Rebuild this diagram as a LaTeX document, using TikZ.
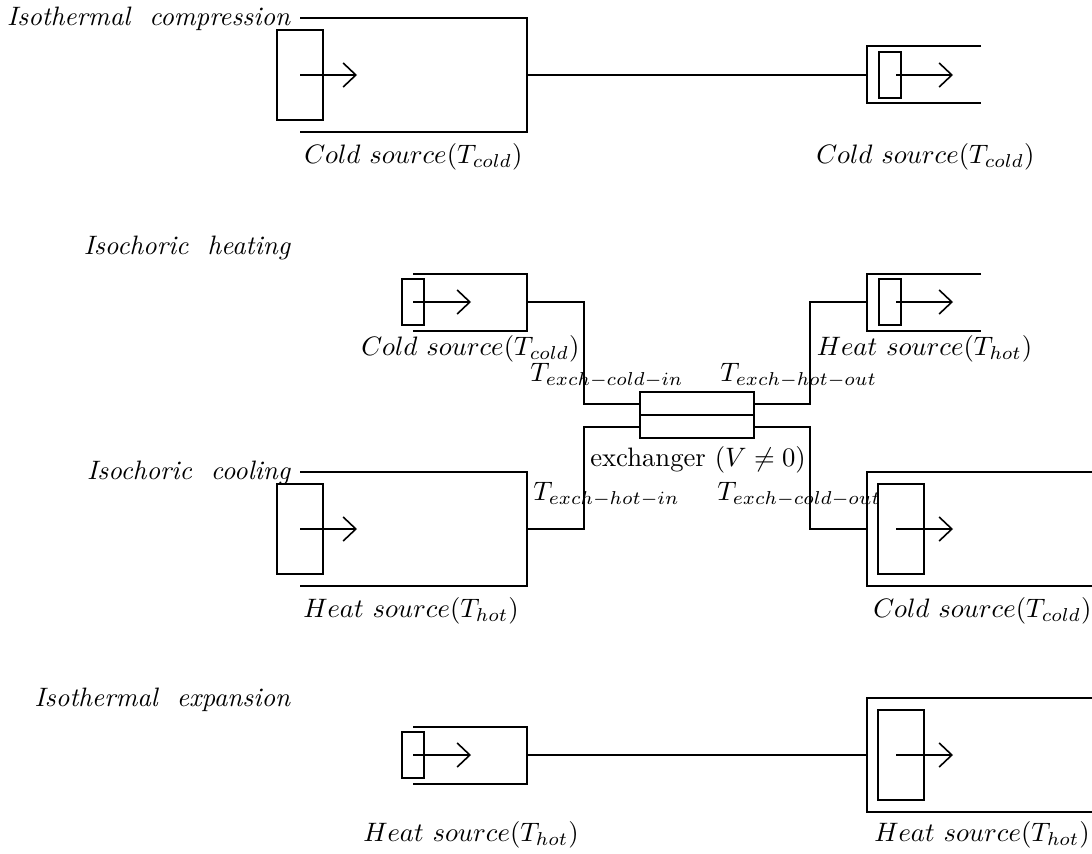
\documentclass[tikz,border=0pt]{standalone}
\usetikzlibrary{arrows.meta}
\newcommand{\bt}[1]{\scalebox{2}{#1}}
\tikzset{
  wall/.style={draw=black,line width=1.5pt},
  piston/.style={wall,inner sep=0pt,outer sep=0pt},
  bigp/.style={piston,minimum width=34.5pt,minimum height=68pt},
  smallp/.style={piston,minimum width=17pt,minimum height=34pt},
  lbl/.style={inner sep=0pt,anchor=base west},
  ttl/.style={inner sep=0pt,anchor=base east},
  rod/.style={wall,-{Straight Barb[length=9.5pt,width=18pt,line width=1.2pt]}},
  xbox/.style={piston,minimum width=85.5pt,minimum height=17pt}
}
\begin{document}
\begin{tikzpicture}[x=0.75pt,y=-0.75pt]
\useasboundingbox (0,0) rectangle (1092,853);
% --- row 1 left
\node[ttl] (t1) at (291,25) {\bt{\textit{Isothermal\ \ compression}}};
\coordinate (a1) at (300,18); \coordinate (a2) at (527,18); \coordinate (a3) at (527,132); \coordinate (a4) at (300,132);
\draw[wall] (a1)--(a2)--(a3)--(a4);
\node[bigp] (p1) at (300,75) {};
\coordinate (r1) at (357,75);
\draw[rod] (p1.center)--(r1);
\node[lbl] (c1) at (304,163) {\bt{$Cold\ source(T_{cold})$}};
% row 1 right
\coordinate (b1) at (981,46); \coordinate (b2) at (867,46); \coordinate (b3) at (867,103); \coordinate (b4) at (981,103);
\draw[wall] (b1)--(b2)--(b3)--(b4);
\node[smallp] (p2) at (890,75) {};
\coordinate (r2a) at (896,75); \coordinate (r2) at (953,75);
\draw[rod] (r2a)--(r2);
\node[lbl] (c2) at (816,163) {\bt{$Cold\ source(T_{cold})$}};
\draw[wall] (a2|-p1)--(b2|-p1);
% --- row 2
\node[ttl] (t2) at (291,254) {\bt{\textit{Isochoric\ \ heating}}};
\coordinate (d1) at (413,274); \coordinate (d2) at (527,274); \coordinate (d3) at (527,331); \coordinate (d4) at (413,331);
\draw[wall] (d1)--(d2)--(d3)--(d4);
\node[smallp] (p3) at (413,302) {};
\coordinate (r3) at (471,302);
\draw[rod] (p3.center)--(r3);
\node[lbl] (c3) at (361,355) {\bt{$Cold\ source(T_{cold})$}};
\coordinate (e1) at (981,274); \coordinate (e2) at (867,274); \coordinate (e3) at (867,331); \coordinate (e4) at (981,331);
\draw[wall] (e1)--(e2)--(e3)--(e4);
\node[smallp] (p4) at (890,302) {};
\coordinate (r4a) at (896,302); \coordinate (r4) at (953,302);
\draw[rod] (r4a)--(r4);
\node[lbl] (c4) at (816.5,355) {\bt{$Heat\ source(T_{hot})$}};
% exchanger
\node[xbox,anchor=south] (x1) at (697,415) {};
\node[xbox,anchor=north] (x2) at (697,415) {};
\coordinate (k1) at (584,302); \coordinate (k2) at (584,404);
\draw[wall] (d2|-p3)--(k1)--(k2)--(k2-|x1.west);
\coordinate (k3) at (810,302); \coordinate (k4) at (810,404);
\draw[wall] (e2|-p4)--(k3)--(k4)--(k4-|x1.east);
\node[lbl] (l1) at (530,381) {\bt{$T_{exch-cold-in}$}};
\node[lbl] (l2) at (720,381) {\bt{$T_{exch-hot-out}$}};
\node[lbl] (xl) at (590,466) {\bt{exchanger $(V\neq 0)$}};
% row 3
\node[ttl] (t3) at (291,479) {\bt{\textit{Isochoric\ \ cooling}}};
\coordinate (f1) at (300,472); \coordinate (f2) at (527,472); \coordinate (f3) at (527,586); \coordinate (f4) at (300,586);
\draw[wall] (f1)--(f2)--(f3)--(f4);
\node[bigp] (p5) at (300,529) {};
\coordinate (r5) at (357,529);
\draw[rod] (p5.center)--(r5);
\node[lbl] (c5) at (303,617) {\bt{$Heat\ source(T_{hot})$}};
\coordinate (g1) at (1092,472); \coordinate (g2) at (867,472); \coordinate (g3) at (867,586); \coordinate (g4) at (1092,586);
\draw[wall] (g1)--(g2)--(g3)--(g4);
\node[bigp] (p6) at (901,529) {};
\coordinate (r6a) at (896,529); \coordinate (r6) at (953,529);
\draw[rod] (r6a)--(r6);
\node[lbl] (c6) at (873,617) {\bt{$Cold\ source(T_{cold})$}};
\coordinate (k5) at (584,529); \coordinate (k6) at (584,427);
\draw[wall] (f2|-p5)--(k5)--(k6)--(k6-|x2.west);
\coordinate (k7) at (810,529); \coordinate (k8) at (810,427);
\draw[wall] (g2|-p6)--(k7)--(k8)--(k8-|x2.east);
\node[lbl] (l3) at (533,500) {\bt{$T_{exch-hot-in}$}};
\node[lbl] (l4) at (717,500) {\bt{$T_{exch-cold-out}$}};
% row 4
\node[ttl] (t4) at (291,706) {\bt{\textit{Isothermal\ \ expansion}}};
\coordinate (h1) at (413,727); \coordinate (h2) at (527,727); \coordinate (h3) at (527,784); \coordinate (h4) at (413,784);
\draw[wall] (h1)--(h2)--(h3)--(h4);
\node[smallp] (p7) at (413,755) {};
\coordinate (r7) at (471,755);
\draw[rod] (p7.center)--(r7);
\node[lbl] (c7) at (363,841) {\bt{$Heat\ source(T_{hot})$}};
\coordinate (m1) at (1092,698); \coordinate (m2) at (867,698); \coordinate (m3) at (867,812); \coordinate (m4) at (1092,812);
\draw[wall] (m1)--(m2)--(m3)--(m4);
\node[bigp] (p8) at (901,755) {};
\coordinate (r8a) at (896,755); \coordinate (r8) at (953,755);
\draw[rod] (r8a)--(r8);
\node[lbl] (c8) at (874,841) {\bt{$Heat\ source(T_{hot})$}};
\draw[wall] (h2|-p7)--(m2|-p8);
\end{tikzpicture}
\end{document}
